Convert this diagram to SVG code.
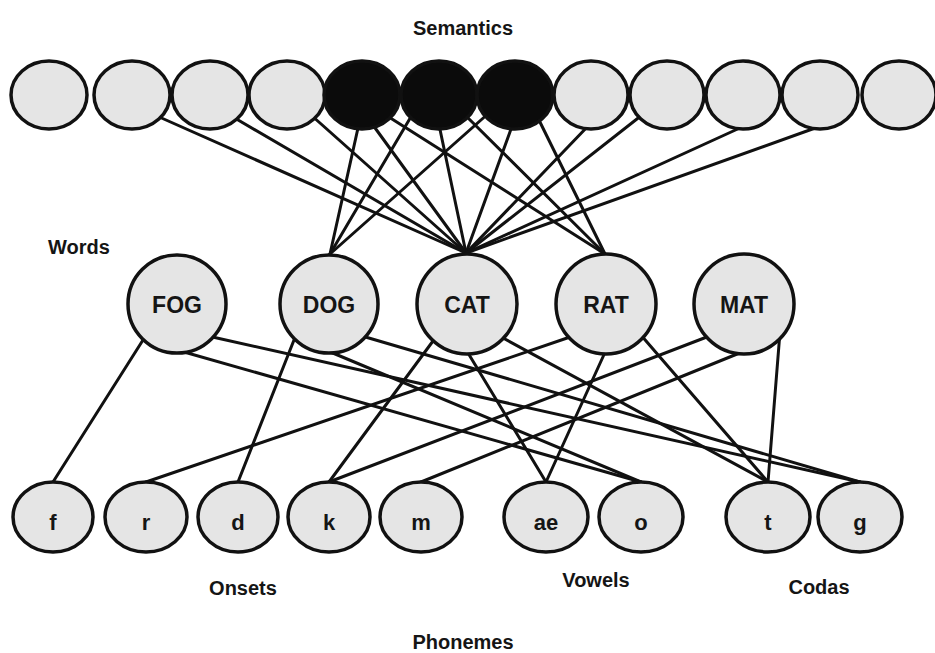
<svg xmlns="http://www.w3.org/2000/svg" width="935" height="653" viewBox="0 0 935 653">
<style>
.bg{fill:#ffffff}
.sem{fill:#e5e5e5;stroke:#111;stroke-width:3.5}
.semon{fill:#0b0b0b;stroke:#111;stroke-width:3.5}
.word{fill:#e5e5e5;stroke:#111;stroke-width:3.5}
.ph{fill:#e5e5e5;stroke:#111;stroke-width:3.5}
.edge{stroke:#111;stroke-width:3;fill:none;stroke-linecap:round}
.wl{font-family:"Liberation Sans",Arial,sans-serif;font-weight:bold;font-size:23px;fill:#151515;text-anchor:middle}
.pl{font-family:"Liberation Sans",Arial,sans-serif;font-weight:bold;font-size:22px;fill:#151515;text-anchor:middle}
.lab{font-family:"Liberation Sans",Arial,sans-serif;font-weight:bold;font-size:20px;fill:#151515}
</style>
<rect class="bg" x="0" y="0" width="935" height="653"/>
<g id="connectors">
<line class="edge" x1="157" y1="116" x2="466" y2="253"/>
<line class="edge" x1="233" y1="117" x2="466" y2="253"/>
<line class="edge" x1="311" y1="115" x2="466" y2="253"/>
<line class="edge" x1="362" y1="110" x2="330" y2="254"/>
<line class="edge" x1="362" y1="110" x2="466" y2="253"/>
<line class="edge" x1="362" y1="100" x2="605" y2="254"/>
<line class="edge" x1="412" y1="115" x2="330" y2="254"/>
<line class="edge" x1="438" y1="120" x2="466" y2="253"/>
<line class="edge" x1="462" y1="112" x2="605" y2="254"/>
<line class="edge" x1="490" y1="112" x2="330" y2="254"/>
<line class="edge" x1="515" y1="118" x2="466" y2="253"/>
<line class="edge" x1="535" y1="112" x2="605" y2="254"/>
<line class="edge" x1="590" y1="124" x2="466" y2="253"/>
<line class="edge" x1="642" y1="115" x2="466" y2="253"/>
<line class="edge" x1="742" y1="127" x2="466" y2="253"/>
<line class="edge" x1="818" y1="127" x2="466" y2="253"/>
<line class="edge" x1="143" y1="340" x2="53" y2="482"/>
<line class="edge" x1="177" y1="350" x2="641" y2="482"/>
<line class="edge" x1="208" y1="336" x2="860" y2="482"/>
<line class="edge" x1="294" y1="340" x2="238" y2="482"/>
<line class="edge" x1="328" y1="351" x2="641" y2="482"/>
<line class="edge" x1="362" y1="336" x2="860" y2="482"/>
<line class="edge" x1="433" y1="341" x2="329" y2="482"/>
<line class="edge" x1="465" y1="348" x2="546" y2="482"/>
<line class="edge" x1="503" y1="338" x2="768" y2="482"/>
<line class="edge" x1="573" y1="336" x2="146" y2="482"/>
<line class="edge" x1="607" y1="348" x2="546" y2="482"/>
<line class="edge" x1="640" y1="334" x2="768" y2="482"/>
<line class="edge" x1="712" y1="335" x2="329" y2="482"/>
<line class="edge" x1="747" y1="350" x2="421" y2="482"/>
<line class="edge" x1="780" y1="332" x2="768" y2="482"/>
</g>
<g id="semantics">
<ellipse id="s1" class="sem" cx="49" cy="95" rx="38" ry="34"/>
<ellipse id="s2" class="sem" cx="132" cy="95" rx="38" ry="34"/>
<ellipse id="s3" class="sem" cx="210" cy="95" rx="38" ry="34"/>
<ellipse id="s4" class="sem" cx="287" cy="95" rx="38" ry="34"/>
<ellipse id="s5" class="semon" cx="362" cy="95" rx="38" ry="34"/>
<ellipse id="s6" class="semon" cx="439" cy="95" rx="38" ry="34"/>
<ellipse id="s7" class="semon" cx="515" cy="95" rx="38" ry="34"/>
<ellipse id="s8" class="sem" cx="591" cy="95" rx="37" ry="34"/>
<ellipse id="s9" class="sem" cx="667" cy="95" rx="37" ry="34"/>
<ellipse id="s10" class="sem" cx="743" cy="95" rx="37" ry="34"/>
<ellipse id="s11" class="sem" cx="820" cy="95" rx="38" ry="34"/>
<ellipse id="s12" class="sem" cx="899" cy="95" rx="37" ry="34"/>
</g>
<g id="w-fog"><circle class="word" cx="177" cy="304" r="49"/><text class="wl" x="177" y="313">FOG</text></g>
<g id="w-dog"><circle class="word" cx="329" cy="304" r="49"/><text class="wl" x="329" y="313">DOG</text></g>
<g id="w-cat"><circle class="word" cx="467" cy="304" r="50"/><text class="wl" x="467" y="313">CAT</text></g>
<g id="w-rat"><circle class="word" cx="606" cy="304" r="50"/><text class="wl" x="606" y="313">RAT</text></g>
<g id="w-mat"><circle class="word" cx="744" cy="304" r="50"/><text class="wl" x="744" y="313">MAT</text></g>
<g id="p-f"><ellipse class="ph" cx="53" cy="517" rx="40" ry="35"/><text class="pl" x="53" y="530">f</text></g>
<g id="p-r"><ellipse class="ph" cx="146" cy="517" rx="41" ry="35"/><text class="pl" x="146" y="530">r</text></g>
<g id="p-d"><ellipse class="ph" cx="238" cy="517" rx="40" ry="35"/><text class="pl" x="238" y="530">d</text></g>
<g id="p-k"><ellipse class="ph" cx="329" cy="517" rx="41" ry="35"/><text class="pl" x="329" y="530">k</text></g>
<g id="p-m"><ellipse class="ph" cx="421" cy="517" rx="41" ry="35"/><text class="pl" x="421" y="530">m</text></g>
<g id="p-ae"><ellipse class="ph" cx="546" cy="517" rx="42" ry="35"/><text class="pl" x="546" y="530">ae</text></g>
<g id="p-o"><ellipse class="ph" cx="641" cy="517" rx="42" ry="35"/><text class="pl" x="641" y="530">o</text></g>
<g id="p-t"><ellipse class="ph" cx="768" cy="517" rx="42" ry="35"/><text class="pl" x="768" y="530">t</text></g>
<g id="p-g"><ellipse class="ph" cx="860" cy="517" rx="42" ry="35"/><text class="pl" x="860" y="530">g</text></g>
<g id="labels">
<text class="lab" x="463" y="35" text-anchor="middle">Semantics</text>
<text class="lab" x="48" y="254">Words</text>
<text class="lab" x="243" y="595" text-anchor="middle">Onsets</text>
<text class="lab" x="596" y="587" text-anchor="middle">Vowels</text>
<text class="lab" x="819" y="594" text-anchor="middle">Codas</text>
<text class="lab" x="463" y="649" text-anchor="middle">Phonemes</text>
</g>
</svg>
